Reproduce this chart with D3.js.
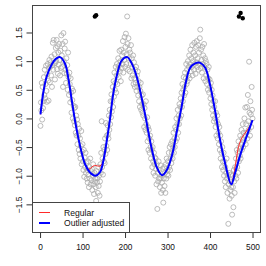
<!DOCTYPE html>
<html>
<head>
<meta charset="utf-8">
<script src="https://cdn.jsdelivr.net/npm/d3@7"></script>
<style>
  body { margin: 0; background: #fff; }
  text { font-family: "Liberation Sans", Arial, sans-serif; fill: #111; }
</style>
</head>
<body>
<svg id="chart" width="266" height="266"></svg>
<script>
// observed values, x = 1..500
const obsY = [
  -0.13, 0.28, 0.14, 0.62, -0.02, 0.55, 0.18, 0.3, 0.72, 0.41,
  0.85, 0.35, 0.6, 0.92, 0.48, 0.29, 0.77, 0.95, 0.66, 0.31,
  0.88, 1.02, 0.63, 0.9, 0.98, 0.75, 1.08, 0.55, 0.93, 1.32,
  0.85, 1.37, 0.96, 1.12, 0.68, 0.97, 1.23, 1.0, 1.37, 0.86,
  1.26, 0.78, 1.15, 0.94, 1.3, 1.02, 0.75, 1.18, 0.88, 1.45,
  1.1, 0.9, 1.3, 0.55, 1.49, 1.0, 0.79, 1.22, 1.34, 0.85,
  0.62, 1.05, 0.78, 0.93, 0.5, 1.15, 0.72, 0.41, 0.8, 0.6,
  0.28, 0.7, 0.45, 0.1, 0.52, 0.32, 0.0, 0.48, 0.22, -0.05,
  0.18, -0.12, 0.2, -0.25, 0.05, -0.3, -0.02, -0.45, -0.1, -0.3,
  -0.55, -0.18, -0.62, -0.35, -0.7, -0.48, -0.22, -0.8, -0.58, -0.45,
  -0.75, -0.9, -0.55, -1.02, -0.68, -0.85, -0.6, -0.95, -0.78, -1.05,
  -0.9, -1.12, -0.75, -0.98, -1.2, -0.85, -1.05, -0.7, -1.15, -0.92,
  -1.08, -0.88, -1.25, -1.0, -0.8, -1.15, -1.32, -0.95, -1.1, -1.05,
  -1.2, -1.44, -0.92, -1.12, -1.05, -1.3, -0.85, -1.18, -1.0, -1.35,
  -1.1, -0.8, -0.95, -0.6, -0.05, -0.85, -0.7, -0.98, -0.5, -0.75,
  -0.55, -0.78, -0.35, -0.62, -0.08, -0.48, -0.3, -0.55, -0.12, -0.28,
  -0.35, 0.05, -0.2, 0.15, -0.1, 0.3, 0.02, 0.42, 0.12, 0.3,
  0.55, 0.2, 0.65, 0.38, 0.8, 0.5, 0.62, 0.9, 0.45, 0.75,
  0.95, 0.6, 0.85, 1.05, 0.72, 0.92, 1.18, 0.82, 1.0, 0.65,
  1.2, 0.88, 1.1, 0.95, 1.35, 0.8, 1.15, 1.02, 1.42, 0.9,
  1.25, 1.48, 0.95, 1.12, 1.78, 1.3, 0.85, 1.4, 1.05, 1.2,
  0.82, 1.15, 0.95, 1.28, 0.7, 1.05, 0.9, 0.75, 1.1, 0.6,
  0.98, 0.7, 0.55, 0.85, 0.62, 0.9, 0.48, 0.75, 0.55, 0.82,
  0.4, 0.65, 0.3, 0.55, 0.2, 0.48, 0.62, 0.15, 0.4, 0.25,
  0.1, 0.42, 0.05, 0.25, -0.15, 0.18, 0.0, -0.2, 0.3, -0.1,
  -0.25, 0.02, -0.4, -0.15, -0.55, -0.2, -0.35, -0.6, -0.3, -0.5,
  -0.7, -0.4, -0.55, -0.85, -0.5, -0.75, -0.95, -0.6, -0.8, -0.68,
  -1.0, -0.7, -0.88, -1.15, -0.8, -1.58, -0.95, -1.1, -0.75, -1.05,
  -0.9, -1.2, -1.05, -0.82, -1.3, -1.0, -1.12, -0.88, -1.25, -1.47,
  -1.05, -0.85, -1.18, -0.95, -1.3, -0.8, -1.05, -0.7, -0.98, -0.9,
  -0.75, -1.0, -0.6, -0.85, -0.5, -0.9, -0.7, -0.45, -0.78, -0.6,
  -0.4, -0.7, -0.5, -0.25, -0.6, -0.35, -0.5, -0.15, -0.4, -0.2,
  0.0, -0.35, -0.1, 0.15, -0.25, 0.05, -0.1, 0.25, 0.0, 0.2,
  0.35, 0.05, 0.45, 0.2, 0.6, 0.3, 0.5, 0.72, 0.4, 0.55,
  0.8, 0.45, 0.7, 0.95, 0.6, 0.85, 0.65, 1.0, 0.75, 0.9,
  1.1, 0.7, 0.95, 1.2, 0.82, 1.05, 0.9, 1.28, 0.75, 1.0,
  1.15, 0.85, 1.32, 0.95, 1.1, 0.78, 1.25, 0.98, 1.35, 0.9,
  1.05, 1.28, 0.85, 1.15, 0.95, 1.4, 1.55, 0.88, 1.2, 1.02,
  0.8, 1.25, 0.95, 1.1, 0.7, 1.3, 0.9, 1.05, 0.65, 1.0,
  0.75, 0.95, 0.6, 0.85, 0.5, 0.7, 0.9, 0.45, 0.68, 0.55,
  0.35, 0.62, 0.25, 0.5, 0.15, 0.4, 0.05, 0.3, -0.05, 0.2,
  0.0, 0.3, -0.15, 0.1, -0.3, -0.05, 0.05, -0.35, -0.1, -0.25,
  -0.45, -0.15, -0.55, -0.3, -0.7, -0.4, -0.6, -0.85, -0.5, -0.75,
  -0.9, -0.6, -1.0, -0.75, -1.1, -0.85, -1.2, -0.95, -0.7, -1.05,
  -1.3, -1.0, -1.84, -1.15, -0.95, -1.4, -1.1, -1.25, -0.98, -1.2,
  -1.35, -1.68, -1.0, -1.2, -1.55, -0.9, -1.1, -1.3, -0.85, -1.0,
  -0.7, -1.05, -0.55, -0.85, -0.6, -0.95, -0.4, -0.75, -0.5, -0.65,
  -0.3, -0.7, -0.45, -0.2, -0.55, -0.35, -0.1, -0.5, -0.25, -0.4,
  0.0, -0.3, 0.19, -0.45, -0.1, -0.25, 0.2, -0.35, 0.41, -0.05,
  -0.2, 0.99, 0.1, -0.3, 0.3, 0.07, -0.15, 0.55, 0.15, 0.0
];

// outliers (filled)
const outX = [129, 132, 468, 472, 477];
const outY = [1.78, 1.80, 1.78, 1.84, 1.75];

// outlier adjusted fit
const blueX = [1, 8, 16, 28, 37, 47, 59, 67, 75, 82.5, 90, 98, 106, 117, 130, 141, 149, 157, 165, 172,
  182, 192, 205, 215, 227, 239, 249, 256, 264, 275, 287, 299, 311, 322, 334, 342, 353, 365, 377, 389,
  400, 412, 424, 436, 450, 459, 471, 482, 497, 500];
const blueY = [0.07, 0.47, 0.74, 0.95, 1.04, 1.07, 0.95, 0.68, 0.30, -0.05, -0.34, -0.60, -0.80, -0.94, -1.00, -0.94, -0.74, -0.39, 0.01, 0.42,
  0.79, 1.01, 1.07, 0.97, 0.74, 0.36, 0.0, -0.28, -0.57, -0.86, -0.99, -0.89, -0.63, -0.22, 0.24, 0.59, 0.88, 0.96, 0.97, 0.88,
  0.59, 0.13, -0.39, -0.80, -1.15, -0.95, -0.64, -0.40, -0.09, -0.03];

// regular fit
const redX = [1, 8, 16, 28, 37, 47, 59, 67, 75, 82.5, 90, 98, 106, 112, 117, 122, 128, 135, 141, 146, 149, 157, 165, 172,
  182, 192, 205, 215, 227, 239, 249, 256, 264, 275, 287, 299, 311, 322, 334, 342, 353, 365, 377, 389,
  400, 412, 424, 436, 450, 455, 460, 467, 475, 486, 497, 500];
const redY = [0.07, 0.47, 0.74, 0.95, 1.04, 1.07, 0.95, 0.68, 0.30, -0.05, -0.34, -0.60, -0.80, -0.88, -0.88, -0.85, -0.82, -0.83, -0.83, -0.79, -0.74, -0.39, 0.01, 0.42,
  0.79, 1.01, 1.07, 0.97, 0.74, 0.36, 0.0, -0.28, -0.57, -0.86, -0.99, -0.89, -0.63, -0.22, 0.24, 0.59, 0.88, 0.96, 0.97, 0.88,
  0.59, 0.13, -0.39, -0.80, -1.15, -1.02, -0.80, -0.50, -0.34, -0.22, -0.09, -0.03];

const xTicks = [0, 100, 200, 300, 400, 500];
const yTicks = [-1.5, -1, -0.5, 0, 0.5, 1, 1.5];
const legendLabels = ["Regular", "Outlier adjusted"];
const legendColors = ["#ff2a2a", "#0000ff"];

const svg = d3.select("#chart");
const mLeft = 32, mTop = 5, mRight = 261, mBottom = 233;

var x = d3.scaleLinear().domain([-18.96, 519.96]).range([mLeft, mRight]);
var y = d3.scaleLinear().domain([-2.0, 1.98]).range([mBottom, mTop]);

// points
svg.append("g")
  .selectAll("circle")
  .data(obsY)
  .enter()
  .append("circle")
  .attr("cx", (d, i) => x(i + 1))
  .attr("cy", d => y(d))
  .attr("r", 2.5)
  .attr("fill", "none")
  .attr("stroke", "#ababab")
  .attr("stroke-width", 0.8);

svg.append("g")
  .selectAll("circle")
  .data(outX)
  .enter()
  .append("circle")
  .attr("cx", d => x(d))
  .attr("cy", (d, i) => y(outY[i]))
  .attr("r", 2.2)
  .attr("fill", "#000");

const line = d3.line()
  .x(d => x(d[0]))
  .y(d => y(d[1]))
  .curve(d3.curveCatmullRom.alpha(0.5));

svg.append("path")
  .attr("d", line(redX.map((v, i) => [v, redY[i]])))
  .attr("fill", "none")
  .attr("stroke", legendColors[0])
  .attr("stroke-width", 1);

svg.append("path")
  .attr("d", line(blueX.map((v, i) => [v, blueY[i]])))
  .attr("fill", "none")
  .attr("stroke", legendColors[1])
  .attr("stroke-width", 2);

// axes
const xAxis = svg.append("g")
  .attr("transform", `translate(0,${mBottom})`)
  .call(d3.axisBottom(x).tickValues(xTicks).tickSize(5).tickFormat(d3.format("d")));
const yAxis = svg.append("g")
  .attr("transform", `translate(${mLeft},0)`)
  .call(d3.axisLeft(y).tickValues(yTicks).tickSize(5.5).tickFormat(d3.format(".1f")));

[xAxis, yAxis].forEach(a => {
  a.select(".domain").remove();
  a.selectAll("line").attr("stroke", "#333");
  a.selectAll("text").style("font-size", "8.3px").attr("fill", "#111");
});
xAxis.selectAll("text").attr("y", 16.5).attr("dy", 0);
yAxis.selectAll("text")
  .attr("text-anchor", "middle")
  .attr("x", 0).attr("y", 0).attr("dy", 0)
  .attr("transform", "translate(-10.5,0) rotate(-90)");

// box
svg.append("rect")
  .attr("x", mLeft + 0.5).attr("y", mTop + 0.5)
  .attr("width", mRight - mLeft - 1).attr("height", mBottom - mTop - 1)
  .attr("fill", "none").attr("stroke", "#444").attr("stroke-width", 1);

// legend
const lg = svg.append("g");
lg.append("rect")
  .attr("x", mLeft + 0.5).attr("y", 202.5)
  .attr("width", 97).attr("height", mBottom - 202.5 - 0.5)
  .attr("fill", "#fff").attr("stroke", "#444").attr("stroke-width", 1);
legendLabels.forEach((lab, i) => {
  const yy = 212.5 + i * 10.5;
  lg.append("line")
    .attr("x1", 39).attr("x2", 50).attr("y1", yy).attr("y2", yy)
    .attr("stroke", legendColors[i]).attr("stroke-width", i === 0 ? 1 : 2);
  lg.append("text")
    .attr("x", 64).attr("y", yy + 3)
    .style("font-size", "8.6px")
    .text(lab);
});
</script>
</body>
</html>
